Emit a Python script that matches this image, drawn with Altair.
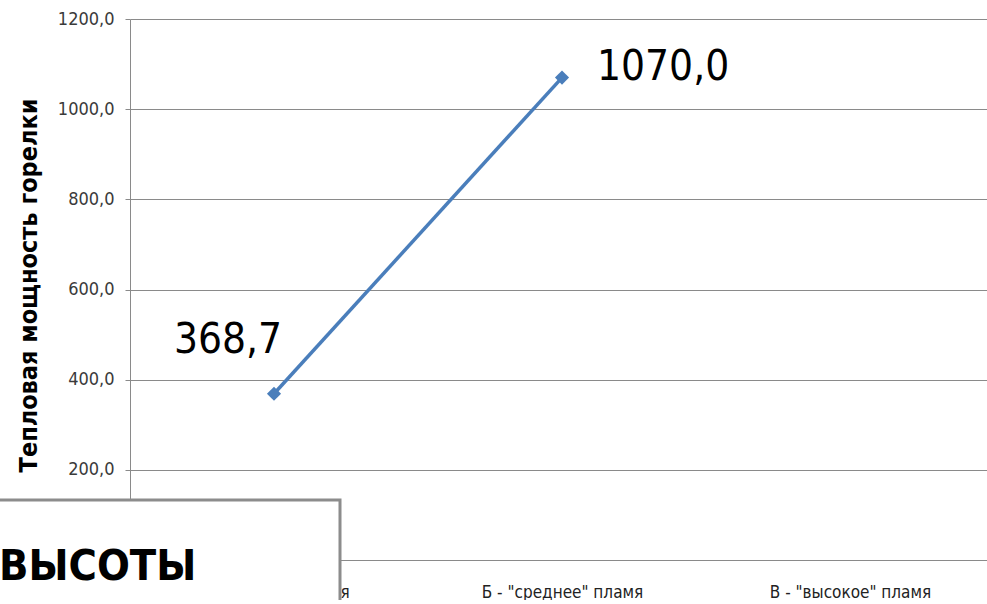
import altair as alt
import pandas as pd

categories = ['А - "низкое" пламя', 'Б - "среднее" пламя', 'В - "высокое" пламя']
point_categories = ['А - "низкое" пламя', 'Б - "среднее" пламя']
values = [368.7, 1070.0]
y_ticks = [0, 200, 400, 600, 800, 1000, 1200]
y_title = "Тепловая мощность горелки"
overlay_text = ["ВЫСОТЫ"]

df = pd.DataFrame({"cat": point_categories, "val": values})

FONT = "DejaVu Sans Condensed, sans-serif"
GRAY = "#8a8a8a"
BLUE = "#4a7ebb"

base = alt.Chart(df).encode(
    x=alt.X("cat:N", sort=categories,
            scale=alt.Scale(domain=categories, range=[0, 864], paddingInner=0, paddingOuter=0),
            axis=alt.Axis(title=None, labelAngle=0, ticks=False, domainColor=GRAY,
                          domainWidth=1, labelFont=FONT, labelFontSize=17, labelLimit=0,
                          labelColor="#222222", labelPadding=24, grid=False)),
    y=alt.Y("val:Q", scale=alt.Scale(domain=[0, 1200], nice=False),
            axis=alt.Axis(values=y_ticks, title=y_title,
                          labelExpr="datum.value == 0 ? '' : replace(format(datum.value, '.1f'), '.', ',')",
                          labelFont=FONT, labelFontSize=18, labelColor="#3a3a3a",
                          labelPadding=11, tickSize=5, tickColor=GRAY, domainColor=GRAY,
                          gridColor=GRAY, gridWidth=1,
                          titleFont=FONT, titleFontSize=25, titleFontWeight="bold",
                          titleColor="#000000", titleX=-102, titleY=266, titleAngle=-90,
                          titleAlign="center", titleBaseline="middle")),
)

line = base.mark_line(color=BLUE, strokeWidth=3.5)
pts = base.mark_point(shape="diamond", filled=True, color=BLUE, size=200, opacity=1)

lab = base.transform_calculate(
    label="replace(format(datum.val, '.1f'), '.', ',')"
)
lab_a = lab.transform_filter(alt.datum.cat == point_categories[0]).mark_text(
    font=FONT, fontSize=42, color="#000000", dx=-46, dy=-54, align="center", baseline="middle"
).encode(text="label:N")
lab_b = lab.transform_filter(alt.datum.cat == point_categories[1]).mark_text(
    font=FONT, fontSize=42, color="#000000", dx=35, dy=-11, align="left", baseline="middle"
).encode(text="label:N")

odf = pd.DataFrame({"t": overlay_text})
box = alt.Chart(odf).mark_rect(fill="white", stroke="#8c8c8c", strokeWidth=3).encode(
    x=alt.value(-140), x2=alt.value(210), y=alt.value(481), y2=alt.value(620)
)
box_text = alt.Chart(odf).mark_text(
    font=FONT, fontSize=43, fontWeight="bold", color="#000000", align="left", baseline="alphabetic"
).encode(x=alt.value(-131), y=alt.value(561), text="t:N")

chart = alt.layer(line, pts, lab_a, lab_b, box, box_text).properties(
    width=857, height=541,
    autosize=alt.AutoSizeParams(type="none"),
    padding={"left": 130, "top": 19, "right": 0, "bottom": 40},
    background="white",
).configure_view(stroke=None)

chart.save("out.html", embed_options={"renderer": "svg", "actions": False})
